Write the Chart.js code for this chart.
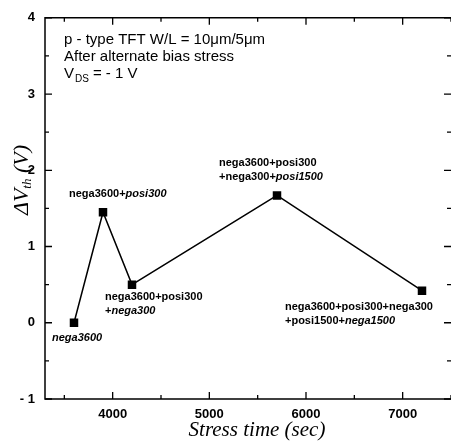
<!DOCTYPE html>
<html>
<head>
<meta charset="utf-8">
<script src="https://cdn.jsdelivr.net/npm/chart.js@4.4.0/dist/chart.umd.min.js"></script>
<style>
  html, body { margin: 0; padding: 0; background: #fff; }
  #wrap { width: 451px; height: 446px; }
</style>
</head>
<body>
<div id="wrap"><canvas id="chart" width="451" height="446"></canvas></div>
<script>
// data
const stressTime = [3600, 3900, 4200, 5700, 7200];
const deltaVth = [0, 1.45, 0.5, 1.67, 0.42];

const xMajor = [4000, 5000, 6000, 7000];
const xMinor = [3500, 4500, 5500, 6500, 7500];
const yMajor = [-1, 0, 1, 2, 3, 4];
const yMinor = [-0.5, 0.5, 1.5, 2.5, 3.5];

// each label: lines of [text, italic]
const pointLabels = [
  [[['nega3600', true]]],
  [[['nega3600+', false], ['posi300', true]]],
  [[['nega3600+posi300', false]], [['+', false], ['nega300', true]]],
  [[['nega3600+posi300', false]], [['+nega300+', false], ['posi1500', true]]],
  [[['nega3600+posi300+nega300', false]], [['+posi1500+', false], ['nega1500', true]]]
];

const infoLines = ['p - type TFT W/L = 10\u03bcm/5\u03bcm', 'After alternate bias stress'];

const SANS = '"Liberation Sans", Arial, sans-serif';
const SERIF = '"Liberation Serif", "Times New Roman", serif';

// label offsets from their point (px): dx, dy of first line
const labelOffsets = [[-22, 15], [-34, -18], [-27, 12], [-58, -32], [-137, 16]];

const decor = {
  id: 'decor',
  afterDraw(chart) {
    const {ctx, chartArea: a, scales: {x, y}} = chart;
    ctx.save();
    ctx.strokeStyle = '#000';
    ctx.lineWidth = 1.5;
    // frame: top, left, bottom (right edge falls at the border of the picture)
    ctx.beginPath();
    ctx.moveTo(a.right, a.top); ctx.lineTo(a.left, a.top);
    ctx.lineTo(a.left, a.bottom); ctx.lineTo(a.right, a.bottom);
    ctx.stroke();

    ctx.lineWidth = 1.3;
    ctx.beginPath();
    const tx = (list, len) => list.forEach(v => {
      const px = x.getPixelForValue(v);
      ctx.moveTo(px, a.bottom); ctx.lineTo(px, a.bottom - len);
      ctx.moveTo(px, a.top); ctx.lineTo(px, a.top + len);
    });
    const ty = (list, len) => list.forEach(v => {
      const py = y.getPixelForValue(v);
      ctx.moveTo(a.left, py); ctx.lineTo(a.left + len, py);
      ctx.moveTo(a.right, py); ctx.lineTo(a.right - len, py);
    });
    tx(xMajor, 7); tx(xMinor, 4); ty(yMajor, 7); ty(yMinor, 4);
    ctx.stroke();

    // info text
    ctx.fillStyle = '#000';
    ctx.textBaseline = 'middle';
    ctx.textAlign = 'left';
    ctx.font = '15px ' + SANS;
    ctx.fillText(infoLines[0], 64, 40);
    ctx.fillText(infoLines[1], 64, 57);
    ctx.fillText('V', 64, 74);
    let vx = 64 + ctx.measureText('V').width + 1;
    ctx.font = '10px ' + SANS;
    ctx.fillText('DS', vx, 79);
    vx += ctx.measureText('DS').width + 4;
    ctx.font = '15px ' + SANS;
    ctx.fillText('= - 1 V', vx, 74);

    // point labels
    pointLabels.forEach((lines, i) => {
      const px = x.getPixelForValue(stressTime[i]) + labelOffsets[i][0];
      let py = y.getPixelForValue(deltaVth[i]) + labelOffsets[i][1];
      lines.forEach(line => {
        let cx = px;
        line.forEach(([t, it]) => {
          ctx.font = (it ? 'italic ' : '') + 'bold 11px ' + SANS;
          ctx.fillText(t, cx, py);
          cx += ctx.measureText(t).width;
        });
        py += 14;
      });
    });

    // axis titles
    ctx.font = 'italic 21px ' + SERIF;
    ctx.textAlign = 'center';
    ctx.fillText('Stress time (sec)', 257, 430);

    ctx.translate(22, 180);
    ctx.rotate(-Math.PI / 2);
    ctx.textAlign = 'left';
    ctx.font = 'italic 22px ' + SERIF;
    const w1 = ctx.measureText('\u0394V').width;
    ctx.font = 'italic 13px ' + SERIF;
    const w2 = ctx.measureText('th').width;
    ctx.font = 'italic 22px ' + SERIF;
    const w3 = ctx.measureText(' (V)').width;
    let sx = -(w1 + w2 + w3) / 2;
    ctx.fillText('\u0394V', sx, 0);
    sx += w1;
    ctx.font = 'italic 13px ' + SERIF;
    ctx.fillText('th', sx, 6);
    sx += w2;
    ctx.font = 'italic 22px ' + SERIF;
    ctx.fillText(' (V)', sx, 0);
    ctx.restore();
  }
};

new Chart(document.getElementById('chart'), {
  type: 'line',
  data: {
    datasets: [{
      data: stressTime.map((t, i) => ({x: t, y: deltaVth[i]})),
      borderColor: '#000',
      backgroundColor: '#000',
      borderWidth: 1.5,
      tension: 0,
      pointStyle: 'rect',
      pointRadius: 6,
      pointBorderWidth: 0
    }]
  },
  options: {
    responsive: false,
    animation: false,
    layout: {autoPadding: false, padding: {top: 10, right: 0, left: 0, bottom: 0}},
    plugins: {legend: {display: false}, tooltip: {enabled: false}},
    scales: {
      x: {
        type: 'linear', min: 3300, max: 7500,
        afterBuildTicks: s => { s.ticks = xMajor.map(v => ({value: v})); },
        afterFit: s => { s.height = 47; },
        grid: {display: false, drawTicks: false},
        border: {display: false},
        ticks: {
          padding: 8, color: '#000', font: {family: SANS, size: 13, weight: 'bold'}, maxRotation: 0,
          callback: v => String(v)
        }
      },
      y: {
        type: 'linear', min: -1, max: 4,
        afterBuildTicks: s => { s.ticks = yMajor.map(v => ({value: v})); },
        afterFit: s => { s.width = 45; },
        grid: {display: false, drawTicks: false},
        border: {display: false},
        ticks: {
          padding: 10, color: '#000', font: {family: SANS, size: 13, weight: 'bold'},
          callback: v => v < 0 ? '- ' + Math.abs(v) : String(v)
        }
      }
    }
  },
  plugins: [decor]
});
</script>
</body>
</html>
